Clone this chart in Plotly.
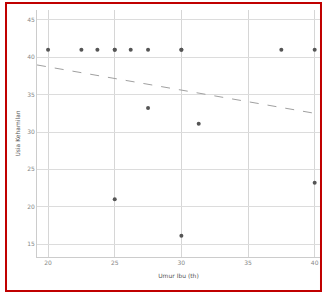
import numpy as np
import plotly.graph_objects as go

# data
umur = [20, 22.5, 23.7, 25, 26.2, 27.5, 30, 37.5, 40, 25, 30,
        27.5, 31.3, 25, 30, 40]
usia = [41, 41, 41, 41, 41, 41, 41, 41, 41, 41, 41,
        33.2, 31.1, 21, 16.1, 23.2]
x_ticks = [20, 25, 30, 35, 40]
y_ticks = [15, 20, 25, 30, 35, 40, 45]
x_title = "Umur Ibu (th)"
y_title = "Usia Kehamilan"

xr = [19.17, 40.4]
yr = [13.27, 46.33]

b, a = np.polyfit(umur, usia, 1)
lx = np.array(xr)
ly = a + b * lx

fig = go.Figure()
fig.add_trace(go.Scatter(x=lx, y=ly, mode="lines",
                         line=dict(color="#a0a0a0", width=1, dash="dash"),
                         hoverinfo="skip", showlegend=False))
fig.add_trace(go.Scatter(x=umur, y=usia, mode="markers",
                         marker=dict(size=4, color="#555555", symbol="circle"),
                         showlegend=False))

fig.update_layout(
    width=326, height=293,
    margin=dict(l=37, r=6, t=10, b=36, autoexpand=False),
    paper_bgcolor="white", plot_bgcolor="white",
    font=dict(family="DejaVu Sans", size=6, color="#888888"),
    xaxis=dict(range=xr, tickvals=x_ticks, showgrid=True, gridcolor="#d6d6d6",
               gridwidth=1, zeroline=False, showline=True, linecolor="#cccccc",
               ticks="", automargin=False,
               title=dict(text=x_title, font=dict(size=6, color="#555555"), standoff=8)),
    yaxis=dict(range=yr, tickvals=y_ticks, showgrid=True, gridcolor="#dcdcdc",
               gridwidth=1, zeroline=False, showline=True, linecolor="#cccccc",
               ticks="", automargin=False,
               title=dict(text=y_title, font=dict(size=6, color="#555555"), standoff=6)),
    shapes=[dict(type="rect", xref="paper", yref="paper",
                 x0=-0.1095, x1=1.0035, y0=-0.1377, y1=1.0283,
                 line=dict(color="#c00000", width=2))],
)

fig.write_html("out.html", config={"displayModeBar": False},
               post_script="document.body.style.margin='0';document.body.style.overflow='hidden';")
